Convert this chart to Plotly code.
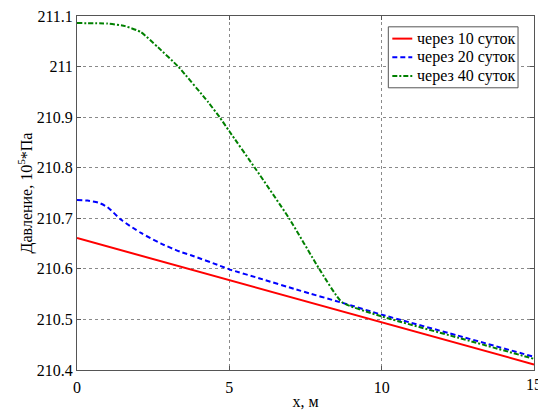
import plotly.graph_objects as go

# Data
x_red = [0, 15]
p_red = [210.661, 210.411]

x_blue = [0, 0.35, 0.7, 1.0, 1.45, 2.1, 2.76, 3.38, 3.74, 4.7, 5.0, 6.0, 7.32, 8.7, 9.97, 12.5, 15]
p_blue = [210.736, 210.735, 210.731, 210.722, 210.697, 210.671, 210.650, 210.634, 210.627,
          210.606, 210.599, 210.581, 210.557, 210.533, 210.510, 210.468, 210.426]

x_green = [0, 1.0, 1.58, 2.1, 2.66, 3.32, 4.3, 4.68, 5.0, 5.87, 6.96, 7.95, 8.7, 10, 12.5, 15]
p_green = [211.086, 211.085, 211.080, 211.068, 211.038, 211.000, 210.930, 210.900, 210.872,
           210.797, 210.700, 210.600, 210.534, 210.506, 210.464, 210.422]

names = ["через 10 суток", "через 20 суток", "через 40 суток"]
colors = ["#ff0000", "#0000ff", "#008000"]
dashes = ["solid", "5px,3px", "5px,2px,2px,2px"]
xticks = [0, 5, 10]
yticks = [210.4, 210.5, 210.6, 210.7, 210.8, 210.9, 211.0, 211.1]
yticktext = ["210.4", "210.5", "210.6", "210.7", "210.8", "210.9", "211", "211.1"]

font = "Times New Roman"
W, H = 538, 410
ML, MR, MT, MB = 77, 3, 16, 34

fig = go.Figure()
series = [(x_red, p_red, None), (x_blue, p_blue, 0.6), (x_green, p_green, 0.5)]
for (xs, ys, sm), nm, c, d in zip(series, names, colors, dashes):
    line = dict(color=c, width=2, dash=d)
    if sm is not None:
        line.update(shape="spline", smoothing=sm)
    fig.add_trace(go.Scatter(x=xs, y=ys, mode="lines", name=nm, line=line, showlegend=False))

axis_common = dict(showline=True, linecolor="#555555", linewidth=1, mirror="ticks",
                   ticks="inside", ticklen=4, tickcolor="#555555",
                   showgrid=True, gridcolor="#8a8a8a", griddash="dot", gridwidth=1,
                   zeroline=False, tickfont=dict(family=font, size=16, color="#000000"))

fig.update_layout(
    width=W, height=H,
    margin=dict(l=ML, r=MR, t=MT, b=MB),
    paper_bgcolor="white", plot_bgcolor="white",
    font=dict(family=font, size=16, color="#000000"),
    xaxis=dict(range=[0, 15], tickvals=xticks, ticklabelstandoff=3,
               title=dict(text="x, м", font=dict(family=font, size=16), standoff=0),
               **axis_common),
    yaxis=dict(range=[210.4, 211.1], tickvals=yticks, ticktext=yticktext,
               title=dict(text="Давление, 10<sup>5</sup>*Па", font=dict(family=font, size=16),
                          standoff=0),
               **axis_common),
    showlegend=False,
)

# x tick label at the right edge (clipped like in the reference)
fig.add_annotation(x=15, y=0, xref="x", yref="paper", text="15", showarrow=False,
                   yanchor="top", yshift=-4, xanchor="center",
                   font=dict(family=font, size=16, color="#000000"))

# Legend box (MATLAB style), placed in paper coordinates
pw, ph = W - ML - MR, H - MT - MB
def px(xp):
    return (xp - ML) / pw
def py(yp):
    return 1 - (yp - MT) / ph

fig.add_shape(type="rect", xref="paper", yref="paper",
              x0=px(389), x1=px(519), y0=py(89), y1=py(27),
              line=dict(color="#555555", width=1), fillcolor="white", layer="above")
rows = [39, 58, 77]
for nm, c, d, r in zip(names, colors, dashes, rows):
    fig.add_shape(type="line", xref="paper", yref="paper",
                  x0=px(393), x1=px(413), y0=py(r), y1=py(r),
                  line=dict(color=c, width=2, dash=d), layer="above")
    fig.add_annotation(x=px(416), y=py(r), xref="paper", yref="paper", text=nm,
                       showarrow=False, xanchor="left", yanchor="middle",
                       font=dict(family=font, size=16, color="#000000"))

fig.write_html("out.html")
